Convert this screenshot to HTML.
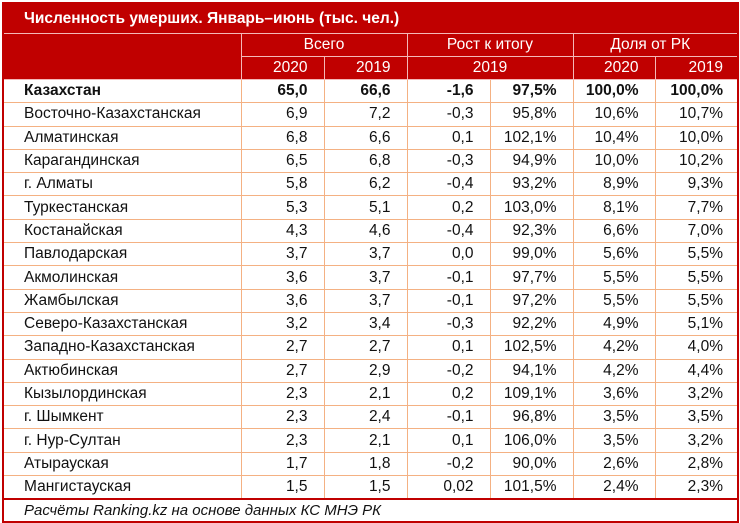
<!DOCTYPE html><html><head><meta charset="utf-8"><style>
body{margin:0;width:740px;height:523px;background:#fff;font-family:"Liberation Sans",sans-serif;}
#w{position:absolute;left:2px;top:2px;width:733px;height:517px;border:2px solid #c00000;overflow:hidden}
table{border-collapse:collapse;table-layout:fixed;width:733px}
td{font-size:15.5px;padding:0 16px 0 4px;height:22.3px;border:1px solid #f4b183;text-align:right;white-space:nowrap;color:#111;overflow:hidden}
td:first-child{text-align:left;padding-left:20px}
.t td{background:#c00000;color:#fff;font-weight:bold;height:29px;border:none;border-bottom:1px solid #f4b8b8;font-size:15.5px;text-align:left}
.h td{background:#c00000;color:#fff;border:1px solid #f4b8b8;height:22px;text-align:center;font-size:15.5px;padding:0 4px}
.h2 td{text-align:right;padding-right:16px}
.h2 td.c{text-align:center;padding-right:4px}
.b td{font-weight:bold}
.f td{border:none;border-top:2px solid #c00000;font-style:italic;text-align:left;height:20px;font-size:15px}
tr td:first-child{border-left:none}tr td:last-child{border-right:none;padding-right:14px}
</style></head><body><div id="w"><table>
<colgroup><col style="width:237px"><col style="width:83px"><col style="width:83px"><col style="width:83px"><col style="width:83px"><col style="width:82px"><col style="width:82px"></colgroup>
<tr class="t"><td colspan="7">Численность умерших. Январь–июнь (тыс. чел.)</td></tr>
<tr class="h"><td rowspan="2" style="border-left:none"></td><td colspan="2">Всего</td><td colspan="2">Рост к итогу</td><td colspan="2">Доля от РК</td></tr>
<tr class="h h2"><td>2020</td><td>2019</td><td colspan="2" class="c">2019</td><td>2020</td><td>2019</td></tr>
<tr class="b"><td>Казахстан</td><td>65,0</td><td>66,6</td><td>-1,6</td><td>97,5%</td><td>100,0%</td><td>100,0%</td></tr>
<tr><td>Восточно-Казахстанская</td><td>6,9</td><td>7,2</td><td>-0,3</td><td>95,8%</td><td>10,6%</td><td>10,7%</td></tr>
<tr><td>Алматинская</td><td>6,8</td><td>6,6</td><td>0,1</td><td>102,1%</td><td>10,4%</td><td>10,0%</td></tr>
<tr><td>Карагандинская</td><td>6,5</td><td>6,8</td><td>-0,3</td><td>94,9%</td><td>10,0%</td><td>10,2%</td></tr>
<tr><td>г. Алматы</td><td>5,8</td><td>6,2</td><td>-0,4</td><td>93,2%</td><td>8,9%</td><td>9,3%</td></tr>
<tr><td>Туркестанская</td><td>5,3</td><td>5,1</td><td>0,2</td><td>103,0%</td><td>8,1%</td><td>7,7%</td></tr>
<tr><td>Костанайская</td><td>4,3</td><td>4,6</td><td>-0,4</td><td>92,3%</td><td>6,6%</td><td>7,0%</td></tr>
<tr><td>Павлодарская</td><td>3,7</td><td>3,7</td><td>0,0</td><td>99,0%</td><td>5,6%</td><td>5,5%</td></tr>
<tr><td>Акмолинская</td><td>3,6</td><td>3,7</td><td>-0,1</td><td>97,7%</td><td>5,5%</td><td>5,5%</td></tr>
<tr><td>Жамбылская</td><td>3,6</td><td>3,7</td><td>-0,1</td><td>97,2%</td><td>5,5%</td><td>5,5%</td></tr>
<tr><td>Северо-Казахстанская</td><td>3,2</td><td>3,4</td><td>-0,3</td><td>92,2%</td><td>4,9%</td><td>5,1%</td></tr>
<tr><td>Западно-Казахстанская</td><td>2,7</td><td>2,7</td><td>0,1</td><td>102,5%</td><td>4,2%</td><td>4,0%</td></tr>
<tr><td>Актюбинская</td><td>2,7</td><td>2,9</td><td>-0,2</td><td>94,1%</td><td>4,2%</td><td>4,4%</td></tr>
<tr><td>Кызылординская</td><td>2,3</td><td>2,1</td><td>0,2</td><td>109,1%</td><td>3,6%</td><td>3,2%</td></tr>
<tr><td>г. Шымкент</td><td>2,3</td><td>2,4</td><td>-0,1</td><td>96,8%</td><td>3,5%</td><td>3,5%</td></tr>
<tr><td>г. Нур-Султан</td><td>2,3</td><td>2,1</td><td>0,1</td><td>106,0%</td><td>3,5%</td><td>3,2%</td></tr>
<tr><td>Атырауская</td><td>1,7</td><td>1,8</td><td>-0,2</td><td>90,0%</td><td>2,6%</td><td>2,8%</td></tr>
<tr><td>Мангистауская</td><td>1,5</td><td>1,5</td><td>0,02</td><td>101,5%</td><td>2,4%</td><td>2,3%</td></tr>
<tr class="f"><td colspan="7">Расчёты Ranking.kz на основе данных КС МНЭ РК</td></tr>
</table></div></body></html>
